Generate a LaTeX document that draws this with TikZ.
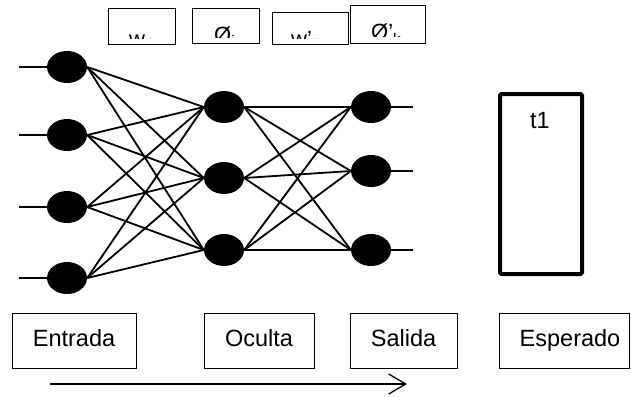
\documentclass[tikz,border=0pt]{standalone}
\usepackage{fontspec}
\setmainfont{Liberation Sans}
\usetikzlibrary{arrows.meta,shapes.geometric}
\begin{document}
\begin{tikzpicture}[x=1pt,y=-1pt,
  neuron/.style={ellipse,fill=black,draw=none,minimum width=40pt,minimum height=32pt,inner sep=0pt},
  link/.style={line width=1.8pt,black},
  topbox/.style={draw,line width=1pt,inner sep=0pt},
  botbox/.style={draw,line width=1pt,minimum height=55pt,inner sep=0pt,
    font=\fontsize{23.5}{26}\selectfont,text height=16pt,text depth=5pt},
  toplbl/.style={anchor=base west,inner sep=0pt,font=\fontsize{22}{24}\selectfont}
]
\useasboundingbox (0,0) rectangle (631,396);

% top boxes with clipped labels
\node[topbox,minimum width=67pt,minimum height=36pt] (b1) at (141.5,27) {};
\node[topbox,minimum width=67pt,minimum height=35pt] (b2) at (225.5,26.5) {};
\node[topbox,minimum width=76pt,minimum height=32pt] (b3) at (310,29) {};
\node[topbox,minimum width=75pt,minimum height=38pt] (b4) at (387.5,25) {};
\begin{scope}
  \clip (108,9) rectangle (175,38.5);
  \node[toplbl] (l1) at (129,46.4) {w\textsubscript{ij}};
\end{scope}
\begin{scope}
  \clip (192,9) rectangle (259,37.5);
  \node[toplbl] (l2) at (214,42) {Ø\textsubscript{j}};
\end{scope}
\begin{scope}
  \clip (272,13) rectangle (348,38.5);
  \node[toplbl] (l3) at (291,46.4) {w’\textsubscript{jk}};
\end{scope}
\begin{scope}
  \clip (350,6) rectangle (425,36.5);
  \node[toplbl] (l4) at (371,40) {Ø’\textsubscript{k}};
\end{scope}

% neurons
\node[neuron] (i1) at (67,67) {};
\node[neuron] (i2) at (67,135) {};
\node[neuron] (i3) at (67,207) {};
\node[neuron] (i4) at (67,278) {};
\node[neuron] (h1) at (224,107) {};
\node[neuron] (h2) at (224,178) {};
\node[neuron] (h3) at (224,250) {};
\node[neuron] (o1) at (371,107) {};
\node[neuron] (o2) at (371,171) {};
\node[neuron] (o3) at (371,250) {};

% input stubs
\foreach \n/\y in {1/67,2/135,3/207,4/278}{
  \coordinate (s\n) at (19,\y);
  \draw[link] (s\n) -- (i\n.west);
}
% output stubs
\foreach \n/\y in {1/107,2/171,3/250}{
  \coordinate (e\n) at (413,\y);
  \draw[link] (o\n.east) -- (e\n);
}
% connections
\foreach \a in {i1,i2,i3,i4}{
  \foreach \b in {h1,h2,h3}{
    \draw[link] (\a.east) -- (\b.west);
  }
}
\foreach \a in {h1,h2,h3}{
  \foreach \b in {o1,o2,o3}{
    \draw[link] (\a.east) -- (\b.west);
  }
}

% expected box
\node[draw,line width=4pt,rounded corners=1.5pt,minimum width=82pt,minimum height=180pt,inner sep=0pt] (tbox) at (541,184) {};
\node[anchor=base,inner sep=0pt,font=\fontsize{23.5}{26}\selectfont] (t1) at (540,128) {t1};

% bottom boxes
\node[botbox,minimum width=124pt] (entrada) at (74,340.5) {Entrada};
\node[botbox,minimum width=110pt] (oculta) at (259,340.5) {Oculta};
\node[botbox,minimum width=107pt] (salida) at (403.5,340.5) {Salida};
\node[botbox,minimum width=130pt] (esperado) at (564,340.5) {\hspace*{12pt}Esperado};

% arrow
\coordinate (a1) at (50,384);
\coordinate (a2) at (407,384);
\draw[line width=1.3pt,-{Straight Barb[length=17pt,width=20pt]}] (a1) -- (a2);
\end{tikzpicture}
\end{document}
